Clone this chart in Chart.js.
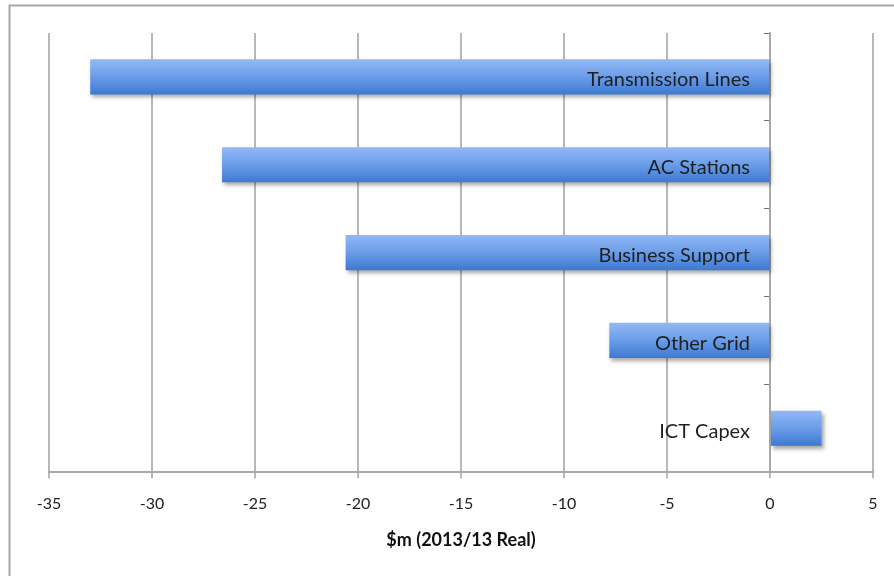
<!DOCTYPE html>
<html>
<head>
<meta charset="utf-8">
<script src="https://cdn.jsdelivr.net/npm/chart.js@4"></script>
<style>
  html, body { margin: 0; padding: 0; background: #ffffff; }
  #wrap { width: 894px; height: 576px; position: relative; }
</style>
</head>
<body>
<div id="wrap"><canvas id="c" width="894" height="576"></canvas></div>
<script>
const categories = ["Transmission Lines", "AC Stations", "Business Support", "Other Grid", "ICT Capex"];
const values = [-33, -26.6, -20.6, -7.8, 2.5];
const xTicks = [-35, -30, -25, -20, -15, -10, -5, 0, 5];
const axisTitle = "$m (2013/13 Real)";

const FONT = "Lato, 'Open Sans', sans-serif";
const BAR_FRACTION = 0.4;

function barFill(ctx) {
  const chart = ctx.chart;
  const ys = chart.scales.y;
  if (!ys || !chart.chartArea) return '#6497e4';
  const band = (ys.bottom - ys.top) / categories.length;
  const c = ys.getPixelForValue(ctx.dataIndex);
  const h = band * BAR_FRACTION / 2;
  const g = chart.ctx.createLinearGradient(0, c - h, 0, c + h);
  g.addColorStop(0, '#92b8f5');
  g.addColorStop(0.5, '#6a9de8');
  g.addColorStop(1, '#3d79d1');
  return g;
}

const framePlugin = {
  id: 'frame',
  beforeDraw(chart) {
    const c = chart.ctx;
    c.save();
    c.strokeStyle = '#a8a8a8';
    c.lineWidth = 2;
    c.beginPath();
    c.moveTo(9.5, 576);
    c.lineTo(9.5, 5.5);
    c.lineTo(894, 5.5);
    c.stroke();
    c.restore();
  }
};

const shadowPlugin = {
  id: 'barShadow',
  beforeDatasetsDraw(chart) {
    const c = chart.ctx;
    c.save();
    c.shadowColor = 'rgba(0,0,0,0.35)';
    c.shadowBlur = 4;
    c.shadowOffsetX = 2;
    c.shadowOffsetY = 3;
  },
  afterDatasetsDraw(chart) {
    const c = chart.ctx;
    c.restore();
    const xs = chart.scales.x, ys = chart.scales.y;
    const x0 = xs.getPixelForValue(0);
    c.save();
    c.font = '20px ' + FONT;
    c.fillStyle = '#1f1f1f';
    c.textAlign = 'right';
    c.textBaseline = 'middle';
    categories.forEach((lab, i) => {
      c.fillText(lab, x0 - 20, ys.getPixelForValue(i) + 3);
    });
    c.restore();
  }
};

new Chart(document.getElementById('c'), {
  type: 'bar',
  data: {
    labels: categories,
    datasets: [{
      data: values,
      backgroundColor: barFill,
      borderWidth: 0,
      barPercentage: BAR_FRACTION,
      categoryPercentage: 1.0
    }]
  },
  options: {
    indexAxis: 'y',
    responsive: false,
    animation: false,
    devicePixelRatio: 1,
    layout: { padding: { left: 49, right: 21, top: 33, bottom: 25 } },
    plugins: { legend: { display: false }, tooltip: { enabled: false } },
    scales: {
      x: {
        type: 'linear',
        min: -35, max: 5,
        afterBuildTicks(scale) { scale.ticks = xTicks.map(v => ({ value: v })); },
        grid: { color: '#b8b8b8', lineWidth: 2, tickLength: 6, drawTicks: true },
        border: { display: true, color: '#a8a8a8', width: 2 },
        ticks: { color: '#222', font: { family: FONT, size: 16 }, padding: 16, maxRotation: 0 },
        title: { display: true, text: axisTitle, color: '#111', font: { family: FONT, size: 18, weight: 'bold' }, padding: { top: 0, bottom: 0 } }
      },
      y: {
        position: { x: 0 },
        offset: true,
        afterFit(scale) { scale.width = 0; },
        grid: { display: true, drawOnChartArea: false, offset: true, tickLength: 5, color: '#6e6e6e', lineWidth: 1 },
        border: { display: true, color: '#a8a8a8', width: 2 },
        ticks: { display: false }
      }
    }
  },
  plugins: [framePlugin, shadowPlugin]
});
</script>
</body>
</html>
